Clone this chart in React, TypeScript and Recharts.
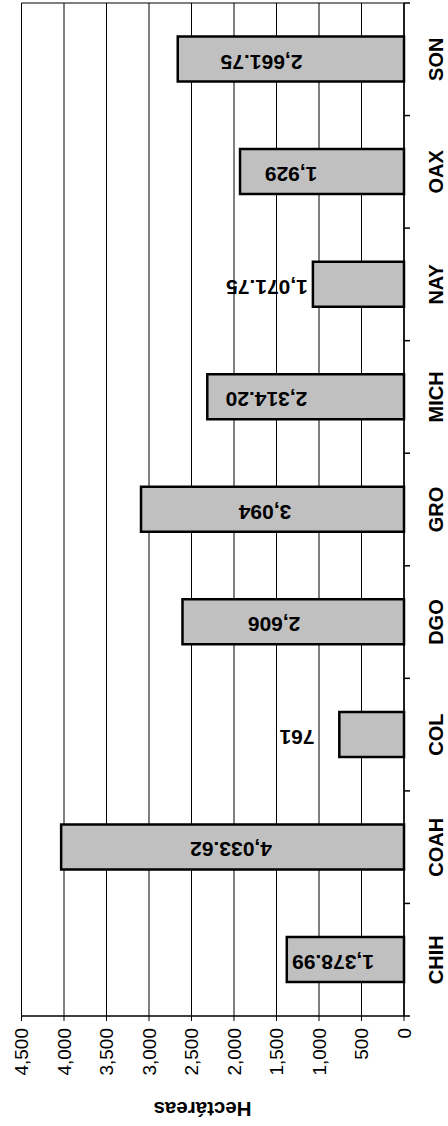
import { BarChart, Bar, XAxis, YAxis, CartesianGrid, LabelList } from 'recharts'

const states = ['CHIH', 'COAH', 'COL', 'DGO', 'GRO', 'MICH', 'NAY', 'OAX', 'SON']
const hectares = [1378.99, 4033.62, 761, 2606, 3094, 2314.2, 1071.75, 1929, 2661.75]
// where each value label is centred along the value axis (hectares)
const labelAt = [835, 2035, 1259, 1529, 1635, 1618, 1612, 1329, 1676]
const valueTicks = [0, 500, 1000, 1500, 2000, 2500, 3000, 3500, 4000, 4500]

const data = states.map((state, i) => ({ state, ha: hectares[i] }))

// chart is laid out as a column chart, then turned a quarter turn
const W = 1126
const H = 448
const FONT = '"Liberation Sans", Arial, sans-serif'

function fmt(v: number) {
  return Number.isInteger(v)
    ? v.toLocaleString('en-US')
    : v.toLocaleString('en-US', { minimumFractionDigits: 2, maximumFractionDigits: 2 })
}

function BarValue(props: any) {
  const { x, y, width, height, value } = props
  const i = props.index ?? hectares.indexOf(Number(value))
  const v = hectares[i]
  const base = Number(y) + Number(height)
  const cy = base - (labelAt[i] * Number(height)) / v
  const cx = Number(x) + Number(width) / 2 - 3
  return (
    <text
      x={cx}
      y={cy}
      transform={`rotate(-90 ${cx} ${cy})`}
      textAnchor="middle"
      dominantBaseline="central"
      fontFamily={FONT}
      fontSize={21}
      fontWeight="bold"
      fill="#000"
    >
      {fmt(v)}
    </text>
  )
}

function StateTick(props: any) {
  const { x, y, payload, index } = props
  const half = payload?.offset ?? 56.28
  return (
    <g>
      {index === 0 && <line x1={x - half} x2={x - half} y1={y} y2={y + 6} stroke="#000" strokeWidth={1.5} />}
      <line x1={x + half} x2={x + half} y1={y} y2={y + 6} stroke="#000" strokeWidth={1.5} />
      <text x={x} y={y + 39} textAnchor="middle" fontFamily={FONT} fontSize={20} fontWeight="bold" fill="#000">
        {payload.value}
      </text>
    </g>
  )
}

function AxisTitle() {
  const cx = 16.5
  const cy = 202.5
  return (
    <text
      x={cx}
      y={cy}
      transform={`rotate(-90 ${cx} ${cy})`}
      textAnchor="middle"
      dominantBaseline="central"
      fontFamily={FONT}
      fontSize={20.5}
      fontWeight="bold"
      fill="#000"
    >
      Hectáreas
    </text>
  )
}

export default function App() {
  return (
    <div style={{ position: 'absolute', left: 0, top: 0, width: H, height: W, overflow: 'hidden', background: '#fff' }}>
      <div style={{ width: W, height: H, transformOrigin: '0 0', transform: `translate(0px, ${W}px) rotate(-90deg)` }}>
        <BarChart width={W} height={H} data={data} margin={{ top: 21.5, right: 3, left: 0, bottom: 0 }} barCategoryGap={0}>
          <CartesianGrid
            stroke="#000"
            verticalCoordinatesGenerator={({ offset }: any) => [offset.left + offset.width]}
          />
          <XAxis
            dataKey="state"
            interval={0}
            height={44}
            tickSize={0}
            tickMargin={0}
            tickLine={false}
            axisLine={{ stroke: '#000', strokeWidth: 1.5 }}
            tick={<StateTick />}
          />
          <YAxis
            type="number"
            domain={[0, 4500]}
            ticks={valueTicks}
            width={110}
            tickSize={5}
            tickMargin={7}
            axisLine={{ stroke: '#000', strokeWidth: 1.5 }}
            tickLine={{ stroke: '#000' }}
            tick={{ fill: '#000', fontSize: 19, fontFamily: FONT }}
            tickFormatter={(v: number) => v.toLocaleString('en-US')}
            label={{ content: () => <AxisTitle /> }}
          />
          <Bar dataKey="ha" fill="#c0c0c0" stroke="#000" strokeWidth={2.5} barSize={45} isAnimationActive={false}>
            <LabelList dataKey="ha" content={<BarValue />} />
          </Bar>
        </BarChart>
      </div>
    </div>
  )
}
